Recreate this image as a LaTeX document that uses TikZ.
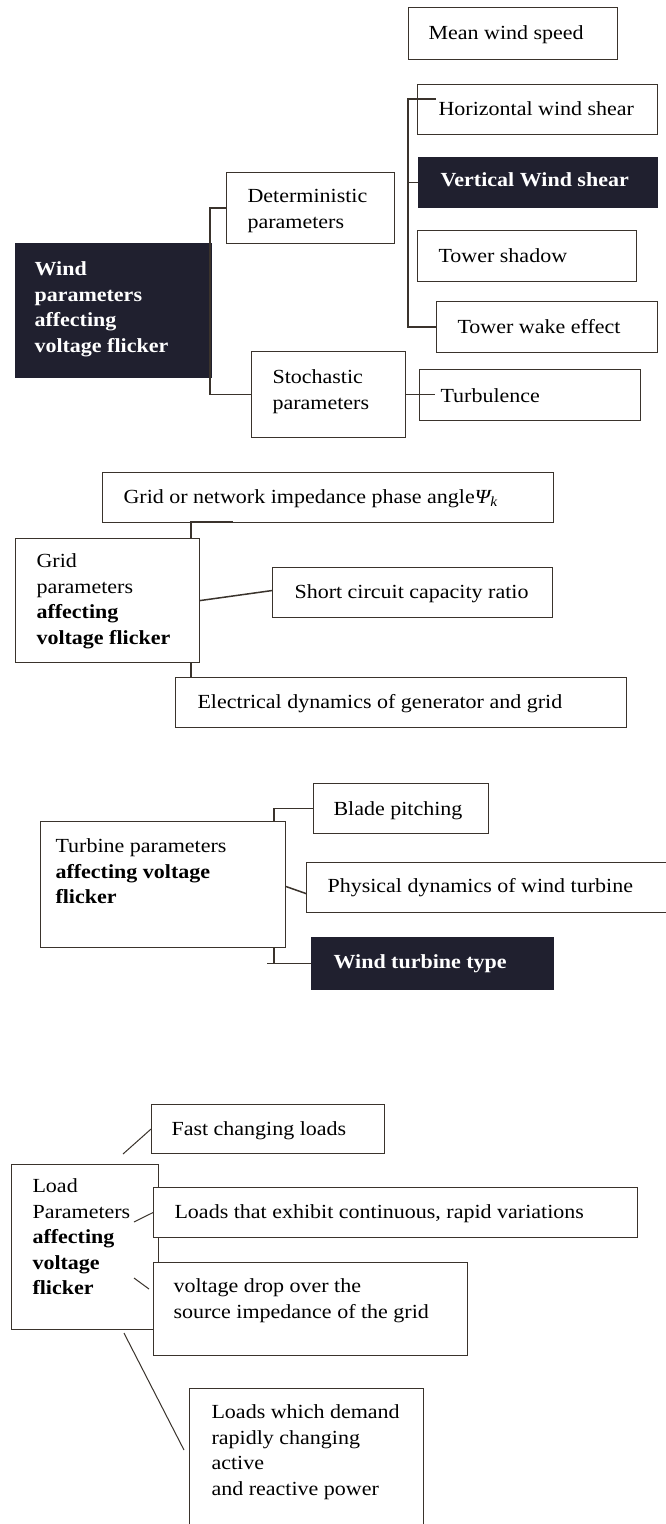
\documentclass[tikz,border=0pt]{standalone}
\usepackage{fontspec}
\setmainfont{Liberation Serif}[FakeStretch=1.1]
\definecolor{edge}{HTML}{3A332C}
\definecolor{navy}{HTML}{20202F}
\newcommand\bx[5]{\parbox[c][#2pt][t]{#1pt}{\raggedright\leftskip=#3pt\relax\vspace*{\dimexpr#4pt-15pt\relax}\rule{0pt}{15pt}#5}}
\tikzset{
  box/.style={draw=edge, line width=1.1pt, inner sep=0pt, anchor=north west, fill=white, text=black},
  dark/.style={box, draw=navy, fill=navy, text=white, font=\fontsize{20}{25.5}\selectfont\bfseries},
  conn/.style={draw=edge, line width=1.5pt},
  thin/.style={draw=edge, line width=1pt}
}
\begin{document}
\begin{tikzpicture}[x=1pt,y=-1pt,font=\fontsize{20}{25.5}\selectfont]
\fill[white] (0,0) rectangle (666,1524);
\useasboundingbox (0,0) rectangle (666,1524);
% wind section
\node[box] (mws) at (408,7) {\bx{209}{52}{20}{32}{Mean wind speed}};
\node[box] (hws) at (417,84) {\bx{240}{50}{21}{31}{Horizontal wind shear}};
\node[dark] (vws) at (418,157) {\bx{239}{50}{22}{29}{Vertical Wind shear}};
\node[box] (ts) at (417,230) {\bx{219}{51}{21}{32}{Tower shadow}};
\node[box] (twe) at (436,301) {\bx{221}{51}{21}{32}{Tower wake effect}};
\node[box] (det) at (226,172) {\bx{168}{71}{21}{30}{Deterministic\\parameters}};
\node[dark] (wind) at (15,243) {\bx{196}{134}{19}{32}{Wind\\parameters\\affecting\\voltage flicker}};
\node[box] (sto) at (251,351) {\bx{154}{86}{21}{32}{Stochastic\\parameters}};
\node[box] (turb) at (419,369) {\bx{221}{51}{21}{33}{Turbulence}};
\draw[conn] (det.west) -- ++(-16,0) |- (sto.west);
\draw[conn] ([shift={(19,15)}]hws.north west) -- ++(-28,0) |- (twe.west);
\draw[conn] (vws.west) -- ++(-10,0);
\draw[conn] (sto.east) -- ++(29,0);
% grid section
\node[box] (gnet) at (102,472) {\bx{451}{50}{21}{31}{Grid or network impedance phase angle{\itshape Ψ\textsubscript{k}}}};
\node[box] (grid) at (15,538) {\bx{184}{124}{21}{29}{Grid\\parameters\\\textbf{affecting}\\\textbf{voltage flicker}}};
\node[box] (scc) at (272,567) {\bx{280}{50}{22}{31}{Short circuit capacity ratio}};
\node[box] (elec) at (175,677) {\bx{451}{50}{22}{31}{Electrical dynamics of generator and grid}};
\draw[conn] ([xshift=-9pt]grid.north east) -- ++(0,-16) -- ++(42,0);
\draw[conn] (grid.east) -- ([yshift=2pt]scc.west);
\draw[conn] ([xshift=-9pt]grid.south east) -- ++(0,15);
% turbine section
\node[box] (turbp) at (40,821) {\bx{245}{126}{15}{31}{Turbine parameters\\\textbf{affecting voltage}\\\textbf{flicker}}};
\node[box] (blade) at (313,783) {\bx{175}{50}{20}{32}{Blade pitching}};
\node[box] (phys) at (306,862) {\bx{364}{50}{21}{30}{Physical dynamics of wind turbine}};
\node[dark] (wtt) at (311,937) {\bx{242}{52}{22}{31}{Wind turbine type}};
\draw[conn] ([xshift=-12pt]turbp.north east) |- (blade.west);
\draw[conn] ([yshift=-2pt]turbp.east) -- ([yshift=-6pt]phys.west);
\draw[conn] ([xshift=-12pt]turbp.south east) |- (wtt.west);
\draw[conn] (wtt.west) -- ++(-44,0);
% load section
\node[box] (fcl) at (151,1104) {\bx{233}{49}{20}{31}{Fast changing loads}};
\node[box] (load) at (11,1164) {\bx{147}{165}{21}{28}{Load\\Parameters\\\textbf{affecting}\\\textbf{voltage}\\\textbf{flicker}}};
\node[box] (lter) at (153,1187) {\bx{484}{50}{21}{31}{Loads that exhibit continuous, rapid variations}};
\node[box] (vdrop) at (153,1262) {\bx{314}{93}{20}{30}{voltage drop over the\\source impedance of the grid}};
\node[box] (ldem) at (189,1388) {\bx{234}{145}{22}{30}{Loads which demand\\rapidly changing\\active\\and reactive power}};
\draw[thin] ([shift={(112,-10)}]load.north west) -- (fcl.west);
\draw[thin] ([shift={(123,58)}]load.north west) -- (lter.west);
\draw[thin] ([shift={(123,114)}]load.north west) -- ([shift={(-4,27)}]vdrop.north west);
\draw[thin] ([shift={(113,3)}]load.south west) -- ([shift={(-5,62)}]ldem.north west);
\end{tikzpicture}
\end{document}
